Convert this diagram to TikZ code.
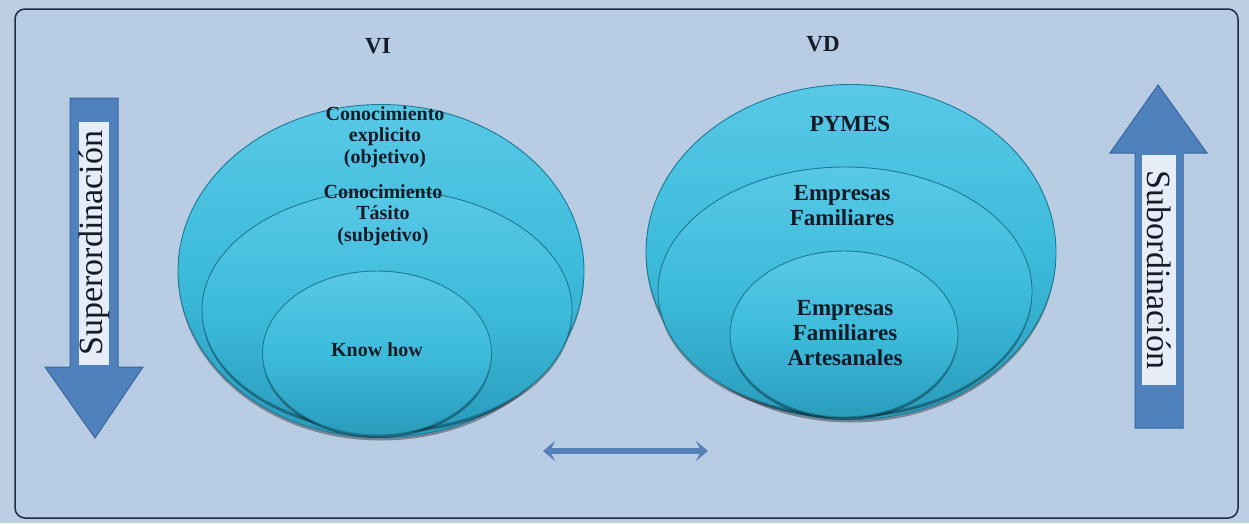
\documentclass[tikz,border=0pt]{standalone}
\usepackage{fontspec}
\setmainfont{Liberation Serif}
\usetikzlibrary{shapes.geometric,shadows,arrows.meta}
\definecolor{pagebg}{HTML}{BCCEE2}
\definecolor{framebg}{HTML}{B8CCE4}
\definecolor{frameline}{HTML}{1F2A44}
\definecolor{blobtop}{HTML}{58C9E6}
\definecolor{blobmid}{HTML}{3DBBDB}
\definecolor{blobbot}{HTML}{2A9CBC}
\definecolor{blobline}{HTML}{1C7A94}
\definecolor{arrowfill}{HTML}{4F81BD}
\definecolor{arrowline}{HTML}{3A679C}
\definecolor{labelbox}{HTML}{E6EDF6}
\definecolor{ink}{HTML}{141C28}
\definecolor{linkcol}{HTML}{5581B6}
\tikzset{
  blob/.style={ellipse, draw=blobline, line width=0.9pt,
    top color=blobtop, bottom color=blobbot, middle color=blobmid,
    drop shadow={shadow xshift=0pt, shadow yshift=-3pt, opacity=0.35, fill=black},
    inner sep=0pt},
  lefttext/.style={font=\fontsize{20}{21.5}\selectfont\bfseries, text=ink, align=center, inner sep=0pt},
  righttext/.style={font=\fontsize{23}{25}\selectfont\bfseries, text=ink, align=center, inner sep=0pt},
  headtext/.style={font=\fontsize{23}{25}\selectfont\bfseries, text=ink, inner sep=0pt},
  bigarrow/.style={fill=arrowfill, draw=arrowline, line width=1pt, line join=miter},
  arrowlabel/.style={fill=labelbox, draw=none, inner sep=0pt, text=ink,
    font=\fontsize{34}{34}\selectfont},
  link/.style={draw=linkcol, line width=6pt,
    {Stealth[length=12pt,width=20pt,inset=5pt]}-{Stealth[length=12pt,width=20pt,inset=5pt]}}
}
\begin{document}
\begin{tikzpicture}[x=1pt,y=-1pt]
\useasboundingbox (0,0) rectangle (1249,523);
\fill[pagebg] (0,0) rectangle (1249,523);
\draw[fill=framebg, draw=frameline, line width=1.5pt, rounded corners=10pt] (15,9) rectangle (1238,518);

% headings
\node[headtext] (vi) at (378,46) {VI};
\node[headtext] (vd) at (823,44) {VD};

% left arrow (down)
\draw[bigarrow] (70,98) -- (118,98) -- (118,367) -- (143,367) -- (95,438) -- (45,367) -- (70,367) -- cycle;
\fill[labelbox] (79,122) rectangle (109,365);
\node[arrowlabel, rotate=90] (sup) at (94,243) {Superordinación};

% right arrow (up)
\draw[bigarrow] (1158,85) -- (1207,153) -- (1183,153) -- (1183,428) -- (1135,428) -- (1135,153) -- (1110,153) -- cycle;
\fill[labelbox] (1142,155) rectangle (1176,385);
\node[arrowlabel, rotate=-90] (sub) at (1159,270) {Subordinación};

% left group
\node[blob, minimum width=406pt, minimum height=333pt] (l1) at (381,271) {};
\node[blob, minimum width=370pt, minimum height=240pt] (l2) at (387,310) {};
\node[blob, minimum width=229pt, minimum height=164pt] (l3) at (377,353) {};
\node[lefttext, anchor=north] (t1) at (385,106) {Conocimiento\\explicito\\(objetivo)};
\node[lefttext, anchor=north] (t2) at (383,184) {Conocimiento\\Tásito\\(subjetivo)};
\node[lefttext] (t3) at (377,350) {Know how};

% right group
\node[blob, minimum width=410pt, minimum height=335pt] (r1) at (851,252) {};
\node[blob, minimum width=374pt, minimum height=248pt] (r2) at (845,291) {};
\node[blob, minimum width=228pt, minimum height=166pt] (r3) at (844,334) {};
\node[righttext] (s1) at (850,124) {PYMES};
\node[righttext] (s2) at (842,206) {Empresas\\Familiares};
\node[righttext] (s3) at (845,333) {Empresas\\Familiares\\Artesanales};

% double arrow
\coordinate (la) at (543,451);
\coordinate (ra) at (708,451);
\draw[link] (la) -- (ra);
\end{tikzpicture}
\end{document}
